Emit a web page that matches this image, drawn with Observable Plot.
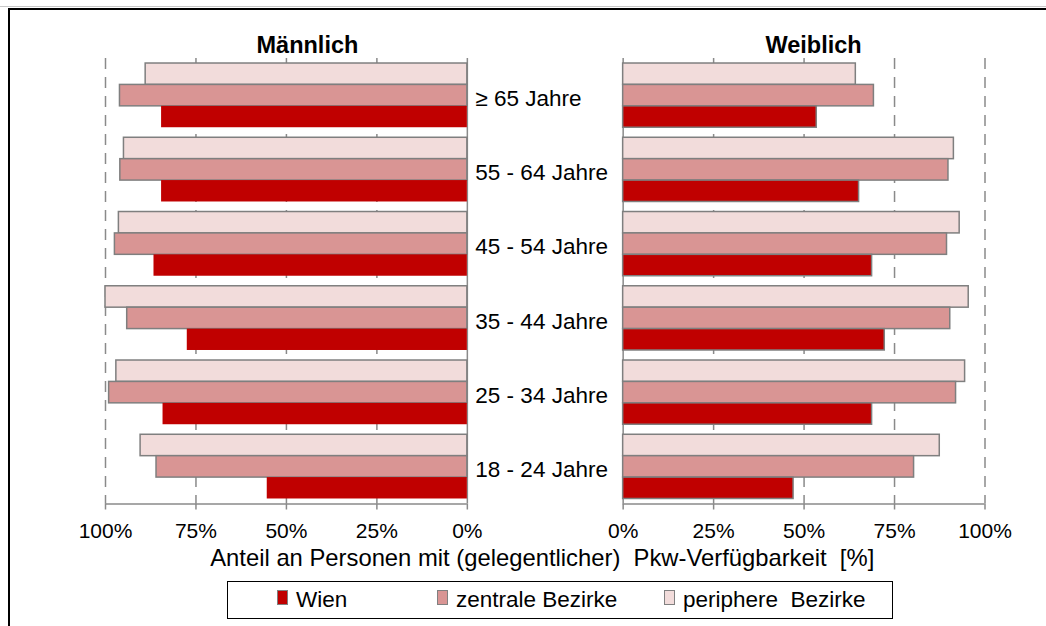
<!DOCTYPE html>
<html><head><meta charset="utf-8">
<script src="https://cdn.jsdelivr.net/npm/d3@7"></script>
<script src="https://cdn.jsdelivr.net/npm/@observablehq/plot@0.6"></script>
<style>
body{margin:0;background:#fff;font-family:"Liberation Sans",Arial,sans-serif;}
#wrap{position:relative;width:1046px;height:626px;overflow:hidden;background:#fff;}
#wrap svg{position:absolute;left:0;top:0;}
#topline{position:absolute;left:0;top:6px;width:1046px;height:1px;background:#c8c8c8;}
#frame{position:absolute;left:8px;top:8px;width:1100px;height:700px;border-top:2px solid #000;border-left:2px solid #000;pointer-events:none;}
#legend{position:absolute;left:227px;top:581px;width:666px;height:38px;border:1.5px solid #000;box-sizing:border-box;background:#fff;}
.item{position:absolute;top:0;height:35px;display:flex;align-items:center;font-size:22.5px;color:#000;white-space:pre;}
.sw{width:11px;height:15px;border:1.5px solid #808080;box-sizing:border-box;margin-right:8px;margin-top:-4px;}
</style>
</head><body>
<div id="wrap"></div>
<script>
// ---- data ----
const ages = ["≥ 65 Jahre", "55 - 64 Jahre", "45 - 54 Jahre", "35 - 44 Jahre", "25 - 34 Jahre", "18 - 24 Jahre"];
const series = ["periphere Bezirke", "zentrale Bezirke", "Wien"];
const legendOrder = ["Wien", "zentrale Bezirke", "periphere  Bezirke"];
const maleWien     = [84.5, 84.5, 86.6, 77.4, 84.1, 55.3];
const maleZentral  = [96.0, 95.9, 97.4, 94.0, 99.0, 85.9];
const malePeriph   = [88.9, 94.9, 96.3, 100.0, 97.0, 90.3];
const femaleWien    = [53.5, 65.2, 68.8, 72.3, 68.8, 47.1];
const femaleZentral = [69.3, 89.9, 89.5, 90.4, 92.0, 80.4];
const femalePeriph  = [64.3, 91.4, 93.0, 95.5, 94.5, 87.5];
const tickValues = [0, 25, 50, 75, 100];
const tickLabels = ["0%", "25%", "50%", "75%", "100%"];
const panelTitles = ["Männlich", "Weiblich"];
const axisTitle = "Anteil an Personen mit (gelegentlicher)  Pkw-Verfügbarkeit  [%]";

// ---- styles ----
const colors = ["#F2DCDB", "#D99594", "#C00000"];
const grey = "#8a8a8a";
const G = 43.06;                 // gap between the two panels, in axis units
const inner = 0.135, outer = inner / 2, w = (1 - inner) / 3;

const male = {"periphere Bezirke": malePeriph, "zentrale Bezirke": maleZentral, "Wien": maleWien};
const female = {"periphere Bezirke": femalePeriph, "zentrale Bezirke": femaleZentral, "Wien": femaleWien};

const rows = [];
ages.forEach((age, i) => series.forEach((s, j) => {
  const y1 = i + outer + j * w, y2 = y1 + w;
  rows.push({gender: "m", age, series: s, value: male[s][i], y1, y2});
  rows.push({gender: "f", age, series: s, value: female[s][i], y1, y2});
}));
const posM = v => -v, posF = v => G + v;
const x1 = d => d.gender === "m" ? posM(0) : posF(0);
const x2 = d => d.gender === "m" ? posM(d.value) : posF(d.value);

const ticksAll = tickValues.map(posM).concat(tickValues.map(posF));
const labelOf = new Map();
tickValues.forEach((v, i) => { labelOf.set(posM(v), tickLabels[i]); labelOf.set(posF(v), tickLabels[i]); });
const grid = tickValues.filter(v => v > 0);
const gridPos = grid.map(posM).concat(grid.map(posF));
const axisSegs = [{x1: posM(100), x2: posM(0)}, {x1: posF(0), x2: posF(100)}];

const isMaleWien = d => d.gender === "m" && d.series === "Wien";

const chart = Plot.plot({
  width: 1046, height: 590,
  marginLeft: 105, marginRight: 61.5, marginTop: 58, marginBottom: 86.5,
  x: {domain: [posM(100), posF(100)]},
  y: {domain: [0, ages.length], reverse: true, axis: null},
  color: {domain: series, range: colors},
  style: {fontFamily: "'Liberation Sans', Arial, sans-serif", fontSize: "21px", background: "transparent", color: "#000"},
  marks: [
    Plot.ruleX(gridPos, {stroke: grey, strokeWidth: 1.5, strokeDasharray: "11,8"}),
    Plot.ruleX([posM(0), posF(0)], {stroke: grey, strokeWidth: 1.5}),
    Plot.rect(rows.filter(d => !isMaleWien(d)), {x1, x2, y1: "y1", y2: "y2", fill: "series", stroke: "#7f7f7f", strokeWidth: 1.5}),
    Plot.rect(rows.filter(isMaleWien), {x1, x2, y1: "y1", y2: "y2", fill: "series"}),
    Plot.ruleY(axisSegs, {y: () => ages.length, x1: "x1", x2: "x2", stroke: grey, strokeWidth: 1.5}),
    Plot.axisX({ticks: ticksAll, tickFormat: d => labelOf.get(d), tickSize: 6, tickPadding: 13, stroke: grey, strokeWidth: 1.5, fontSize: 21, label: null}),
    Plot.text(ages, {x: () => posM(0), y: (d, i) => i + 0.5, text: d => d, textAnchor: "start", dx: 8, dy: 3, fontSize: 22.5}),
    Plot.text([panelTitles[0]], {x: () => posM(50), y: () => 0, text: d => d, dx: 21, dy: -12.7, fontWeight: "bold", fontSize: 23.5}),
    Plot.text([panelTitles[1]], {x: () => posF(50), y: () => 0, text: d => d, dx: 9.5, dy: -12.7, fontWeight: "bold", fontSize: 23.5}),
    Plot.text([axisTitle], {frameAnchor: "bottom", text: d => d, dx: -3, dy: 62, fontSize: 23.8})
  ]
});

const wrap = document.getElementById("wrap");
wrap.appendChild(chart);

const topLine = document.createElement("div"); topLine.id = "topline"; wrap.appendChild(topLine);
const frameBox = document.createElement("div"); frameBox.id = "frame"; wrap.appendChild(frameBox);

const legend = document.createElement("div"); legend.id = "legend";
const lefts = [49, 209, 436];
const swColors = {"Wien": colors[2], "zentrale Bezirke": colors[1], "periphere  Bezirke": colors[0]};
legendOrder.forEach((name, k) => {
  const it = document.createElement("div"); it.className = "item"; it.style.left = lefts[k] + "px";
  const sw = document.createElement("div"); sw.className = "sw"; sw.style.background = swColors[name];
  const tx = document.createElement("span"); tx.textContent = name;
  it.appendChild(sw); it.appendChild(tx); legend.appendChild(it);
});
wrap.appendChild(legend);
</script>
</body></html>
